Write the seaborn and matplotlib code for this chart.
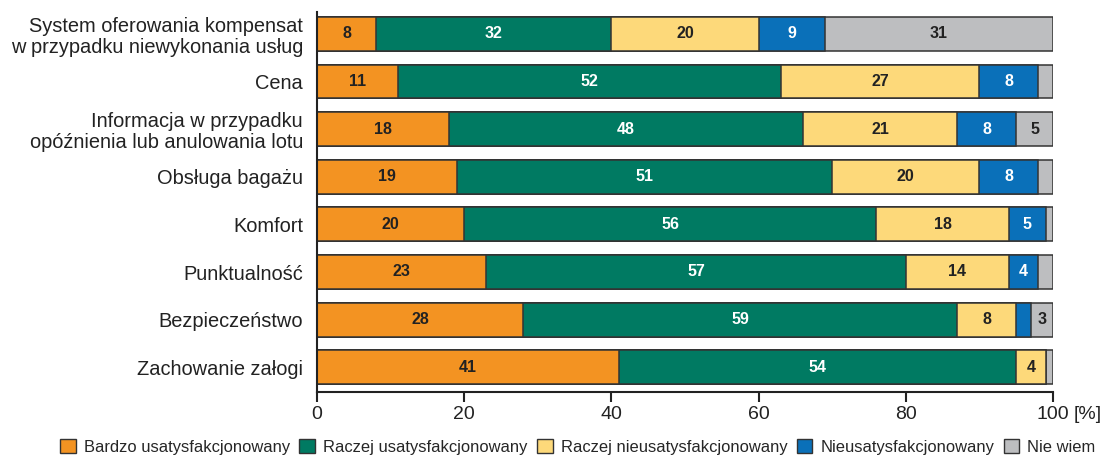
import matplotlib
matplotlib.use("Agg")
import matplotlib.pyplot as plt
import seaborn as sns
import numpy as np
import pandas as pd
from matplotlib.patches import Patch

categories = [
    "System oferowania kompensat\nw przypadku niewykonania usług",
    "Cena",
    "Informacja w przypadku\nopóźnienia lub anulowania lotu",
    "Obsługa bagażu",
    "Komfort",
    "Punktualność",
    "Bezpieczeństwo",
    "Zachowanie załogi",
]
bardzo_usat = [8, 11, 18, 19, 20, 23, 28, 41]
raczej_usat = [32, 52, 48, 51, 56, 57, 59, 54]
raczej_nieusat = [20, 27, 21, 20, 18, 14, 8, 4]
nieusat = [9, 8, 8, 8, 5, 4, 2, 0]
nie_wiem = [31, 2, 5, 2, 1, 2, 3, 1]

series_names = ["Bardzo usatysfakcjonowany", "Raczej usatysfakcjonowany",
                "Raczej nieusatysfakcjonowany", "Nieusatysfakcjonowany", "Nie wiem"]
colors = ["#F39322", "#007A62", "#FDD97A", "#0A70B9", "#BDBEC0"]
text_colors = ["#222222", "white", "#222222", "white", "#222222"]
xticks = [0, 20, 40, 60, 80, 100]

sns.set_theme(style="white")
plt.rcParams['font.family'] = ['Liberation Sans', 'DejaVu Sans']

series = [bardzo_usat, raczej_usat, raczej_nieusat, nieusat, nie_wiem]
arr = np.array(series, dtype=float)
cum = np.cumsum(arr, axis=0)

fig = plt.figure(figsize=(11.04, 4.57), dpi=100)
ax = fig.add_axes([317/1104, 1-392/457, (1053-317)/1104, (392-12)/457])

edge = "#333333"
for i in range(len(series) - 1, -1, -1):
    df = pd.DataFrame({"cat": categories, "val": cum[i]})
    sns.barplot(data=df, x="val", y="cat", orient="h", color=colors[i],
                width=0.71, edgecolor=edge, linewidth=1.1, ax=ax,
                saturation=1, errorbar=None)

for i in range(len(series)):
    for j in range(len(categories)):
        v = arr[i, j]
        if v >= 3:
            c = cum[i, j] - v / 2
            ax.text(c, j, f"{int(v)}", ha="center", va="center",
                    fontsize=11.5, fontweight="bold", color=text_colors[i])

ax.set_xlim(0, 100)
ax.set_ylim(7.52, -0.46)
ax.set_xlabel("")
ax.set_ylabel("")
ax.set_xticks(xticks)
ax.set_xticklabels([str(t) for t in xticks], fontsize=14, color="#222222")
ax.tick_params(axis="x", length=7, width=1.5, color="#222222", pad=3, direction="out", bottom=True)
ax.tick_params(axis="y", length=0, pad=10, labelsize=14.4, labelcolor="#222222")
for lbl in ax.get_yticklabels():
    lbl.set_linespacing(1.15)
for s in ["top", "right"]:
    ax.spines[s].set_visible(False)
for s in ["left", "bottom"]:
    ax.spines[s].set_color("#222222")
    ax.spines[s].set_linewidth(1.5)
ax.annotate("[%]", xy=(100, 0), xycoords=("data", "axes fraction"),
            xytext=(15, -10), textcoords="offset points", ha="left", va="top",
            fontsize=14, color="#222222")

handles = [Patch(facecolor=colors[i], edgecolor=edge, linewidth=1.0, label=series_names[i])
           for i in range(len(series))]
fig.legend(handles=handles, loc="center", bbox_to_anchor=(578/1104, 1-447/457), ncol=5,
           frameon=False, fontsize=11.9, handlelength=0.95, handleheight=0.95,
           handletextpad=0.5, columnspacing=0.55, borderaxespad=0)

fig.savefig("out.png", dpi=100)
